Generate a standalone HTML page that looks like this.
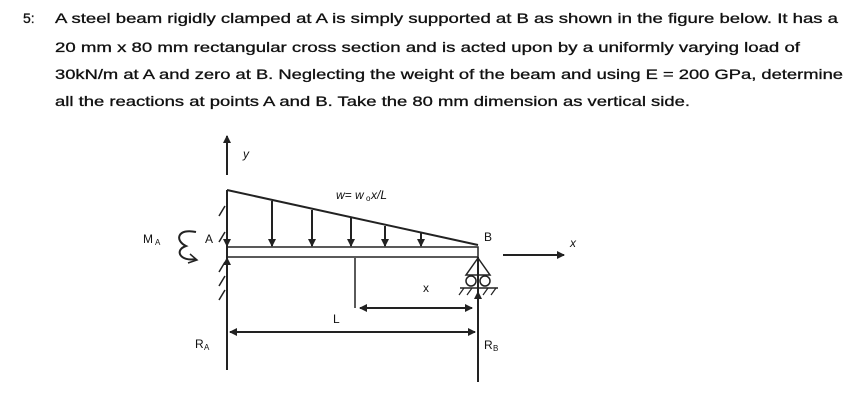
<!DOCTYPE html>
<html><head><style>
body{margin:0;background:#fff;}
svg{display:block}
text{font-family:"Liberation Sans",sans-serif;fill:#111;}
</style></head><body>
<svg width="858" height="403" viewBox="0 0 858 403" xmlns="http://www.w3.org/2000/svg">
<defs>
<marker id="ah" markerWidth="8" markerHeight="8" refX="7" refY="4" orient="auto" markerUnits="userSpaceOnUse">
<path d="M0,0 L8,4 L0,8 z" fill="#222"/></marker>
</defs>
<g font-size="14" stroke="#111" stroke-width="0.3">
<text x="23" y="23">5:</text>
<text x="55" y="23" textLength="783" lengthAdjust="spacingAndGlyphs">A steel beam rigidly clamped at A is simply supported at B as shown in the figure below. It has a</text>
<text x="55" y="52" textLength="745" lengthAdjust="spacingAndGlyphs">20 mm x 80 mm rectangular cross section and is acted upon by a uniformly varying load of</text>
<text x="55" y="79" textLength="788" lengthAdjust="spacingAndGlyphs">30kN/m at A and zero at B. Neglecting the weight of the beam and using E = 200 GPa, determine</text>
<text x="55" y="106" textLength="635" lengthAdjust="spacingAndGlyphs">all the reactions at points A and B. Take the 80 mm dimension as vertical side.</text>
</g>
<g stroke="#222" stroke-width="2" fill="none">
<line x1="227" y1="175" x2="227" y2="136" marker-end="url(#ah)"/>
<line x1="227" y1="190" x2="227" y2="370"/>
<g stroke-width="1.5">
<line x1="225" y1="232" x2="219" y2="242"/>
<line x1="225" y1="262" x2="219" y2="272"/>
<line x1="225" y1="276" x2="219" y2="286"/>
<line x1="225" y1="290" x2="219" y2="300"/>
<line x1="225" y1="206" x2="219" y2="216"/>
</g>
<line x1="227" y1="190" x2="478" y2="245"/>
<line x1="227" y1="192" x2="227" y2="246" marker-end="url(#ah)"/>
<line x1="272" y1="201" x2="272" y2="246" marker-end="url(#ah)"/>
<line x1="312" y1="210" x2="312" y2="246" marker-end="url(#ah)"/>
<line x1="351" y1="218" x2="351" y2="246" marker-end="url(#ah)"/>
<line x1="385" y1="226" x2="385" y2="246" marker-end="url(#ah)"/>
<line x1="421" y1="233" x2="421" y2="246" marker-end="url(#ah)"/>
<rect x="227" y="247" width="251" height="10" stroke-width="1.5"/>
<line x1="227" y1="275" x2="227" y2="258" marker-end="url(#ah)"/>
<line x1="478" y1="257" x2="478" y2="382"/>
<path d="M478,258 L466,275 L490,275 Z" stroke-width="1.5"/>
<circle cx="471" cy="281" r="5" stroke-width="1.5"/>
<circle cx="485" cy="281" r="5" stroke-width="1.5"/>
<line x1="460" y1="288" x2="498" y2="288" stroke-width="1.5"/>
<g stroke-width="1.2"><line x1="464" y1="288" x2="459" y2="295"/><line x1="472" y1="288" x2="467" y2="295"/><line x1="488" y1="288" x2="483" y2="295"/><line x1="496" y1="288" x2="491" y2="295"/></g>
<line x1="478" y1="305" x2="478" y2="292" marker-end="url(#ah)"/>
<line x1="503" y1="255" x2="564" y2="255" marker-end="url(#ah)"/>
<line x1="355" y1="258" x2="355" y2="308" stroke-width="1.5"/>
<line x1="417" y1="308" x2="360" y2="308" marker-end="url(#ah)"/>
<line x1="417" y1="308" x2="472" y2="308" marker-end="url(#ah)"/>
<line x1="350" y1="332" x2="230" y2="332" marker-end="url(#ah)"/>
<line x1="350" y1="332" x2="475" y2="332" marker-end="url(#ah)"/>
<path d="M196,232 C178,228 174,240 186,246 C174,250 180,262 196,259" stroke-width="2"/>
<path d="M190,254 L197,260 L188,263" stroke-width="1.5"/>
</g>
<g font-size="12">
<text x="243" y="158" font-style="italic">y</text>
<text x="336" y="199" font-style="italic">w= w</text><text x="366" y="201" font-size="8">o</text><text x="371" y="199" font-style="italic">x/L</text>
<text x="143" y="243">M</text><text x="155" y="245" font-size="8">A</text>
<text x="205" y="243">A</text>
<text x="484" y="241">B</text>
<text x="570" y="247" font-style="italic">x</text>
<text x="423" y="292">x</text>
<text x="333" y="323">L</text>
<text x="195" y="348">R</text><text x="204" y="350" font-size="8">A</text>
<text x="484" y="349">R</text><text x="493" y="351" font-size="8">B</text>
</g>
</svg>
</body></html>
